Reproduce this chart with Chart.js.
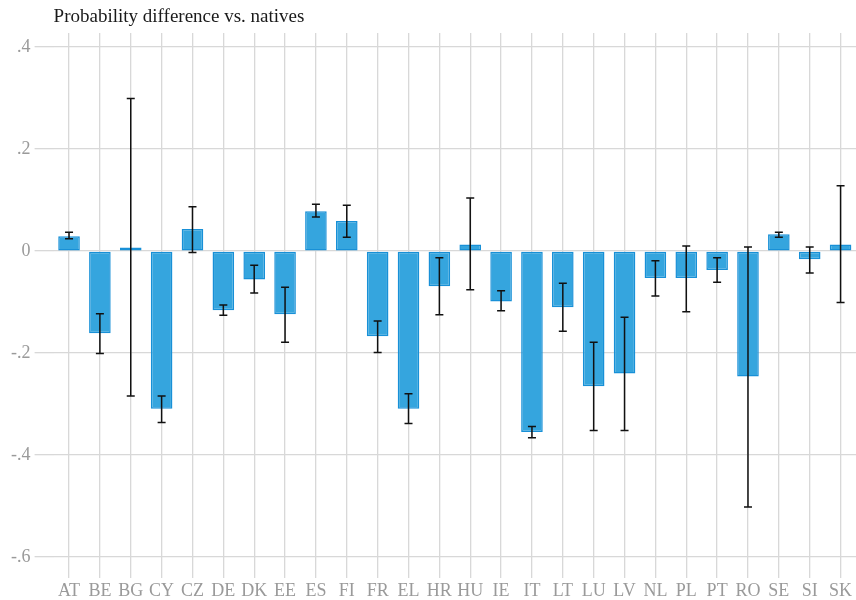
<!DOCTYPE html>
<html>
<head>
<meta charset="utf-8">
<script src="https://cdn.jsdelivr.net/npm/chart.js@4"></script>
<style>
  body { margin: 0; background: #fff; }
  #wrap { width: 856px; height: 600px; }
</style>
</head>
<body>
<div id="wrap"><canvas id="probChart" width="856" height="600"></canvas></div>
<script>
// Countries
const countries = ['AT', 'BE', 'BG', 'CY', 'CZ', 'DE', 'DK', 'EE', 'ES', 'FI', 'FR', 'EL', 'HR',
  'HU', 'IE', 'IT', 'LT', 'LU', 'LV', 'NL', 'PL', 'PT', 'RO', 'SE', 'SI', 'SK'];

// Point estimates
const estimates = [0.029, -0.161, 0.007, -0.309, 0.043, -0.116, -0.056, -0.124, 0.078, 0.059,
  -0.167, -0.309, -0.069, 0.013, -0.099, -0.355, -0.110, -0.265, -0.240, -0.053, -0.053,
  -0.037, -0.246, 0.033, -0.016, 0.013];

// Confidence interval bounds
const ciLow = [0.024, -0.201, -0.284, -0.336, -0.003, -0.126, -0.082, -0.179, 0.067, 0.027,
  -0.199, -0.338, -0.125, -0.076, -0.117, -0.366, -0.157, -0.352, -0.352, -0.088, -0.119,
  -0.061, -0.502, 0.027, -0.043, -0.101];
const ciHigh = [0.037, -0.123, 0.299, -0.284, 0.087, -0.106, -0.028, -0.071, 0.092, 0.090,
  -0.137, -0.280, -0.013, 0.104, -0.078, -0.344, -0.063, -0.179, -0.130, -0.019, 0.010,
  -0.013, 0.008, 0.037, 0.008, 0.128];

// Y axis ticks
const yTicks = [0.4, 0.2, 0, -0.2, -0.4, -0.6];
const yTickLabels = ['.4', '.2', '0', '-.2', '-.4', '-.6'];

const serif = '"Liberation Serif", "DejaVu Serif", serif';

// draws the CI whiskers on top of the bars
const errorBars = {
  id: 'errorBars',
  afterDatasetsDraw(chart) {
    const ctx = chart.ctx;
    const xs = chart.scales.x;
    const ys = chart.scales.y;
    const cap = 4;
    ctx.save();
    ctx.strokeStyle = '#111';
    ctx.lineWidth = 1.5;
    countries.forEach(function(c, i) {
      const x = xs.getPixelForValue(i);
      const yLo = ys.getPixelForValue(ciLow[i]);
      const yHi = ys.getPixelForValue(ciHigh[i]);
      ctx.beginPath();
      ctx.moveTo(x, yLo);
      ctx.lineTo(x, yHi);
      ctx.moveTo(x - cap, yLo);
      ctx.lineTo(x + cap, yLo);
      ctx.moveTo(x - cap, yHi);
      ctx.lineTo(x + cap, yHi);
      ctx.stroke();
    });
    ctx.restore();
  }
};

const ctx = document.getElementById('probChart').getContext('2d');

new Chart(ctx, {
  type: 'bar',
  data: {
    labels: countries,
    datasets: [{
      label: 'Probability difference',
      data: estimates,
      backgroundColor: '#35a5de',
      borderColor: '#1890d7',
      borderWidth: 1.5,
      borderSkipped: false,
      barPercentage: 0.7,
      categoryPercentage: 1.0
    }]
  },
  options: {
    responsive: false,
    animation: false,
    layout: { padding: { left: 0, right: 0, top: 0, bottom: 0 } },
    plugins: {
      legend: { display: false },
      tooltip: { enabled: false },
      title: {
        display: true,
        text: 'Probability difference vs. natives',
        align: 'start',
        fullSize: false,
        color: '#1a1a1a',
        font: { family: serif, size: 19, weight: 'normal' },
        padding: { top: 5.2, bottom: 5.0 }
      }
    },
    scales: {
      x: {
        offset: true,
        border: { display: false },
        grid: { offset: false, color: '#d8d8d8', lineWidth: 1.3, drawTicks: false },
        ticks: {
          color: '#9a9a9a',
          padding: 2,
          maxRotation: 0,
          autoSkip: false,
          font: { family: serif, size: 18 }
        },
        afterFit: function(axis) { axis.height = 22; }
      },
      y: {
        min: -0.641,
        max: 0.4275,
        border: { display: false },
        grid: { color: '#d8d8d8', lineWidth: 1.3, drawTicks: true, tickLength: 19 },
        ticks: {
          color: '#9a9a9a',
          padding: 4,
          font: { family: serif, size: 18 },
          callback: function(value) {
            const k = yTicks.findIndex(function(t) { return Math.abs(t - value) < 1e-6; });
            return k >= 0 ? yTickLabels[k] : '';
          }
        },
        afterBuildTicks: function(axis) {
          axis.ticks = yTicks.map(function(v) { return { value: v }; });
        },
        afterFit: function(axis) { axis.width = 53.6; }
      }
    }
  },
  plugins: [errorBars]
});
</script>
</body>
</html>
